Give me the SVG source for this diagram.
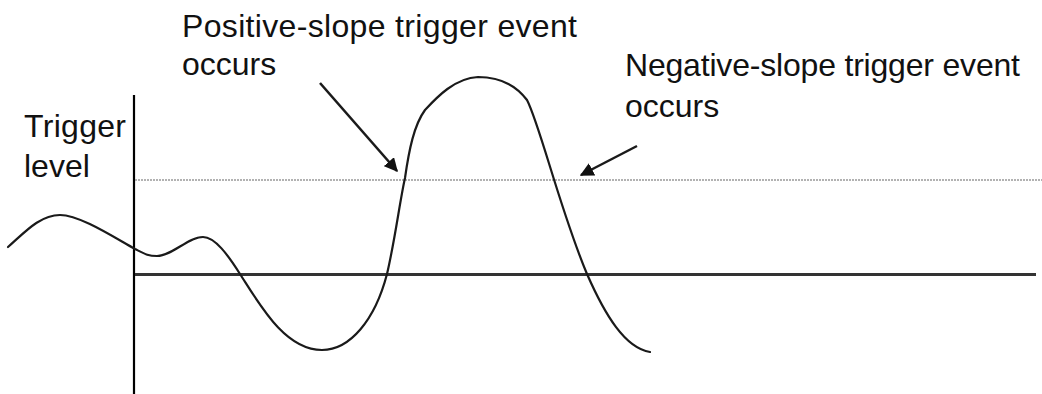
<svg xmlns="http://www.w3.org/2000/svg" width="1042" height="394" viewBox="0 0 1042 394">
<style>
.lbl{font-family:"Liberation Sans",Arial,sans-serif;font-size:32px;fill:#111}
.wave{fill:none;stroke:#1a1a1a;stroke-width:2.2;stroke-linejoin:round;stroke-linecap:round}
.arrow{stroke:#1a1a1a;stroke-width:2.5;fill:none}
</style>
<defs>
<marker id="ah" viewBox="0 0 10 10" refX="9" refY="5" markerWidth="5.5" markerHeight="5.5" orient="auto" markerUnits="strokeWidth">
<path d="M0,0 L10,5 L0,10 z" fill="#111"/>
</marker>
</defs>
<rect width="1042" height="394" fill="#fff"/>
<g id="axes">
<line x1="134" y1="95" x2="134" y2="394" stroke="#000" stroke-width="2.2"/>
<line x1="135" y1="274.5" x2="1036" y2="274.5" stroke="#333" stroke-width="3"/>
<line x1="135" y1="180" x2="1042" y2="180" stroke="#999" stroke-width="1.5" stroke-dasharray="2 1"/>
</g>
<g id="waveform">
<path class="wave" d="M8,247 C25,232 40,215 60,215 C80,215 115,238 135,249 C145,254 148,256 157,256 C172,256 188,237 203,237 C215,237 228,255 240,274 C260,305 285,350 322,350 C350,350 375,320 387,274 C395,240 400,200 405,178 C409,150 414,125 425,110 C437,97 455,78 478,77 C498,77 515,84 527,100 C540,125 560,210 587,274 C605,315 625,348 650,352"/>
</g>
<g id="labels">
<text class="lbl" x="24" y="137" textLength="102" lengthAdjust="spacing">Trigger</text>
<text class="lbl" x="24" y="177">level</text>
<text class="lbl" x="182" y="37" textLength="395" lengthAdjust="spacing">Positive-slope trigger event</text>
<text class="lbl" x="182" y="75">occurs</text>
<text class="lbl" x="625" y="76" textLength="395" lengthAdjust="spacing">Negative-slope trigger event</text>
<text class="lbl" x="625" y="117">occurs</text>
</g>
<g id="connectors">
<line class="arrow" x1="320" y1="83" x2="397" y2="171" marker-end="url(#ah)"/>
<line class="arrow" x1="637" y1="146" x2="581" y2="175" marker-end="url(#ah)"/>
</g>
</svg>
